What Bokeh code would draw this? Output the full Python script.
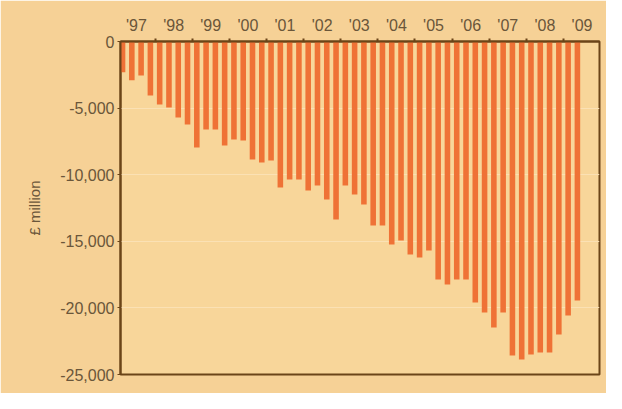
from bokeh.plotting import figure
from bokeh.models import FixedTicker, NumeralTickFormatter
from bokeh.embed import file_html
from bokeh.resources import INLINE

# Quarterly data, 1997 Q1 .. 2009 Q2 (£ million)
years = [1997]*4 + [1998]*4 + [1999]*4 + [2000]*4 + [2001]*4 + [2002]*4 + [2003]*4 + \
        [2004]*4 + [2005]*4 + [2006]*4 + [2007]*4 + [2008]*4 + [2009]*2
quarters = [1, 2, 3, 4]*12 + [1, 2]
values = [
    -2300, -2900, -2550, -4050,
    -4730, -4950, -5700, -6230,
    -7960, -6600, -6600, -7810,
    -7360, -7430, -8860, -9080,
    -8930, -10960, -10360, -10360,
    -11190, -10810, -11860, -13360,
    -10810, -11490, -12240, -13810,
    -13810, -15240, -14940, -15990,
    -16220, -15690, -17870, -18240,
    -17870, -17870, -19600, -20350,
    -21470, -20350, -23570, -23870,
    -23500, -23350, -23350, -22000,
    -20570, -19440,
]
year_labels = ["'97", "'98", "'99", "'00", "'01", "'02", "'03", "'04",
               "'05", "'06", "'07", "'08", "'09"]
y_ticks = [0, -5000, -10000, -15000, -20000, -25000]

xs = [y + (q - 0.5) / 4 for y, q in zip(years, quarters)]
label_years = list(range(1997, 2010))

TXT = "#6a563a"
FRAME = "#6b4518"

p = figure(width=606, height=393, output_backend="svg", toolbar_location=None,
           x_range=(1997.07, 2009.97), y_range=(-25000, 0),
           x_axis_location="above",
           background_fill_color="#f8d69a", border_fill_color="#f6d196",
           min_border_left=120, min_border_top=41, min_border_right=7,
           min_border_bottom=19)

p.vbar(x=xs, top=0, bottom=values, width=0.15, fill_color="#ef7236", line_color=None)

p.outline_line_color = FRAME
p.outline_line_width = 2

# top axis
xa = p.xaxis[0]
xa.ticker = FixedTicker(ticks=[y + 0.5 for y in label_years],
                        minor_ticks=[float(y) for y in range(1998, 2010)])
xa.major_label_overrides = {y + 0.5: lab for y, lab in zip(label_years, year_labels)}
xa.major_tick_line_color = None
xa.minor_tick_line_color = FRAME
xa.minor_tick_line_width = 2
xa.minor_tick_out = 3
xa.minor_tick_in = 0
xa.axis_line_color = FRAME
xa.axis_line_width = 2
xa.major_label_text_font = "Liberation Sans"
xa.major_label_text_font_size = "16px"
xa.major_label_text_color = TXT
xa.major_label_standoff = 2

ya = p.yaxis[0]
ya.ticker = FixedTicker(ticks=y_ticks)
ya.formatter = NumeralTickFormatter(format="0,0")
ya.axis_line_color = FRAME
ya.axis_line_width = 2
ya.major_tick_line_color = FRAME
ya.major_tick_out = 3
ya.major_tick_in = 0
ya.minor_tick_line_color = None
ya.major_label_text_font = "Liberation Sans"
ya.major_label_text_font_size = "16px"
ya.major_label_text_color = TXT
ya.major_label_standoff = 3
ya.axis_label = "£ million"
ya.axis_label_text_font = "Liberation Sans"
ya.axis_label_text_font_size = "15px"
ya.axis_label_text_font_style = "normal"
ya.axis_label_text_color = TXT
ya.axis_label_standoff = 14

p.xgrid.grid_line_color = None
p.ygrid.ticker = FixedTicker(ticks=y_ticks)
p.ygrid.grid_line_color = "#fbe1b4"
p.ygrid.grid_line_width = 1

open("out.html", "w").write(file_html(p, INLINE))
